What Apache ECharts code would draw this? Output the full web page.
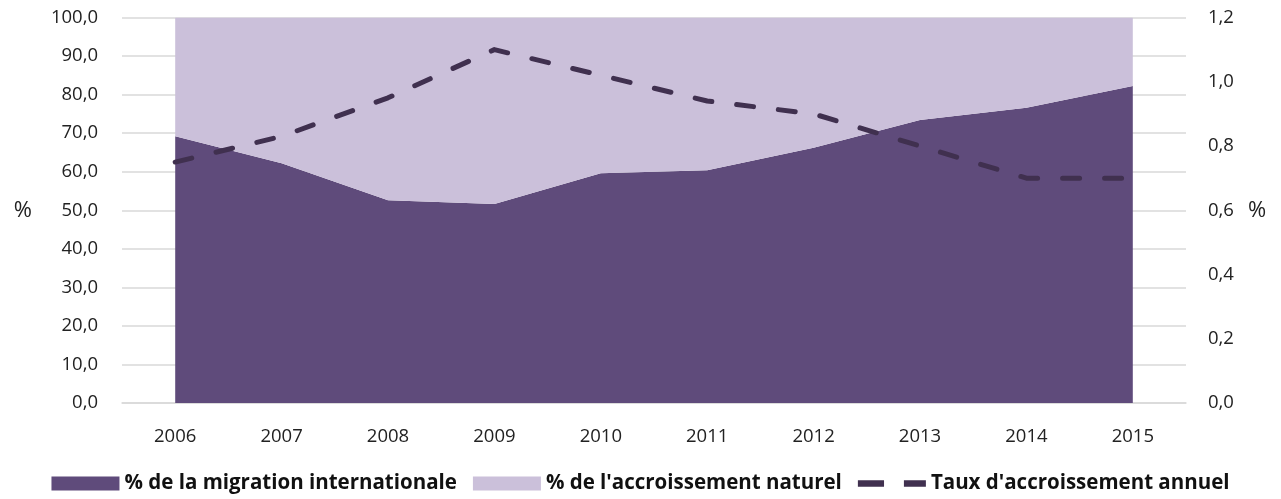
<!DOCTYPE html>
<html>
<head>
<meta charset="utf-8">
<script src="https://cdn.jsdelivr.net/npm/echarts@6/dist/echarts.min.js"></script>
<style>
  html, body { margin: 0; padding: 0; background: #fff; }
  #chart { width: 1281px; height: 499px; }
</style>
</head>
<body>
<div id="chart"></div>
<script>
  // données
  var annees = ['2006', '2007', '2008', '2009', '2010', '2011', '2012', '2013', '2014', '2015'];
  var migration = [69.2, 62.2, 52.6, 51.6, 59.6, 60.4, 66.2, 73.4, 76.6, 82.2];
  var naturel = [30.8, 37.8, 47.4, 48.4, 40.4, 39.6, 33.8, 26.6, 23.4, 17.8];
  var taux = [0.75, 0.83, 0.95, 1.10, 1.02, 0.94, 0.90, 0.80, 0.70, 0.70];

  var fmt = function (v) { return v.toFixed(1).replace('.', ','); };
  var police = '"Open Sans", Lato, sans-serif';
  var tiret = 'path://M0,0 h25 v6 h-25z M44,0 h21 v6 h-21z';

  var chart = echarts.init(document.getElementById('chart'));
  chart.setOption({
    animation: false,
    grid: { left: 122, right: 95, top: 17.5, bottom: 96 },
    legend: {
      left: 'center',
      bottom: 0,
      itemWidth: 68,
      itemHeight: 14,
      itemGap: 16,
      textStyle: { fontFamily: police, fontSize: 20.5, fontWeight: 'bold', color: '#111' },
      data: [
        { name: '% de la migration internationale', icon: 'rect' },
        { name: "% de l'accroissement naturel", icon: 'rect' },
        { name: "Taux d'accroissement annuel", icon: tiret }
      ]
    },
    xAxis: {
      type: 'category',
      data: annees,
      boundaryGap: true,
      axisLine: { show: true, lineStyle: { color: '#d9d9d9', width: 1.5 } },
      axisTick: { show: false },
      axisLabel: { margin: 24, fontFamily: police, fontSize: 18.5, color: '#222' }
    },
    yAxis: [
      {
        type: 'value', min: 0, max: 100, interval: 10,
        name: '%', nameLocation: 'middle', nameRotate: 0, nameGap: 90,
        nameTextStyle: { fontFamily: police, fontSize: 22, color: '#222' },
        axisLabel: { margin: 24, fontFamily: police, fontSize: 18.5, color: '#222', formatter: fmt },
        splitLine: { lineStyle: { color: '#d9d9d9', width: 1.5 } },
        axisLine: { show: false }, axisTick: { show: false }
      },
      {
        type: 'value', min: 0, max: 1.2, interval: 0.2,
        name: '%', nameLocation: 'middle', nameRotate: 0, nameGap: 62,
        nameTextStyle: { fontFamily: police, fontSize: 22, color: '#222' },
        axisLabel: { margin: 22, fontFamily: police, fontSize: 18.5, color: '#222', formatter: fmt },
        splitLine: { show: false },
        axisLine: { show: false }, axisTick: { show: false }
      }
    ],
    series: [
      {
        name: '% de la migration internationale',
        type: 'line', stack: 'part', yAxisIndex: 0,
        data: migration, symbol: 'none',
        lineStyle: { width: 0 },
        itemStyle: { color: '#5f4b7b' },
        areaStyle: { color: '#5f4b7b', opacity: 1 }
      },
      {
        name: "% de l'accroissement naturel",
        type: 'line', stack: 'part', yAxisIndex: 0,
        data: naturel, symbol: 'none',
        lineStyle: { width: 0 },
        itemStyle: { color: '#cbc0da' },
        areaStyle: { color: '#cbc0da', opacity: 1 }
      },
      {
        name: "Taux d'accroissement annuel",
        type: 'line', yAxisIndex: 1,
        data: taux, symbol: 'none',
        itemStyle: { color: '#40304f' },
        lineStyle: { color: '#40304f', width: 5, type: [17, 25], cap: 'round', join: 'round' },
        z: 5
      }
    ]
  });
</script>
</body>
</html>
